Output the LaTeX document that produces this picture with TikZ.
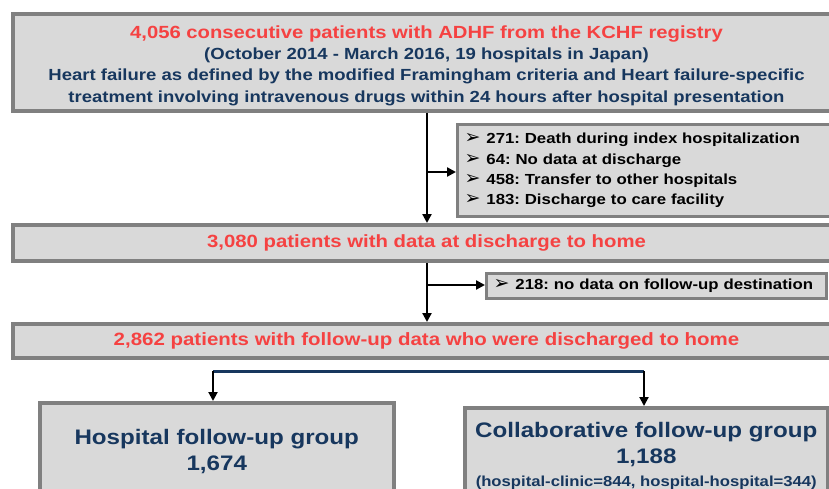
\documentclass[tikz,border=0pt]{standalone}
\usepackage{fontspec}
\setmainfont{Liberation Sans}[FakeStretch=1.15]
\newfontfamily\dingfont{DejaVu Sans}
\usetikzlibrary{arrows.meta}

\definecolor{kred}{RGB}{245,66,66}
\definecolor{knavy}{RGB}{23,55,94}
\definecolor{boxfill}{RGB}{217,217,217}
\definecolor{boxline}{RGB}{128,128,128}

\newcommand{\bularrow}{{\dingfont\fontsize{19}{16}\selectfont\symbol{"27A2}}\hspace{6pt}}

\begin{document}
\frenchspacing
\begin{tikzpicture}[x=1pt, y=-1pt, font=\bfseries]

\tikzstyle{stage}=[rectangle, draw=boxline, line width=4pt, fill=boxfill, inner sep=0pt, align=center]
\tikzstyle{note}=[rectangle, draw=boxline, line width=3pt, fill=boxfill, inner xsep=7pt, inner ysep=0pt, align=left, anchor=north west]
\tikzstyle{connect}=[-{Triangle[length=9pt, width=9pt]}, line width=2.5pt]

\useasboundingbox (0,0) rectangle (829,489);
\clip (0,0) rectangle (829,489);

% main flow
\node[stage, minimum width=827pt, minimum height=97pt] (registry) at (426.5,62.5) {};
\node[align=center, inner sep=0pt, text=knavy,
      font=\bfseries\fontsize{16.1}{21.3}\selectfont] (registrytext) at (426.5,65.5)
  {{\color{kred}\fontsize{17.6}{21.3}\selectfont 4,056 consecutive patients with ADHF from the KCHF registry}\\
   (October 2014 - March 2016, 19 hospitals in Japan)\\
   Heart failure as defined by the modified Framingham criteria and Heart failure-specific\\
   treatment involving intravenous drugs within 24 hours after hospital presentation};

\node[stage, minimum width=827pt, minimum height=36pt, text=kred,
      font=\bfseries\fontsize{17.7}{21}\selectfont] (home) at (426.5,243)
  {3,080 patients with data at discharge to home};

\node[stage, minimum width=827pt, minimum height=34pt, text=kred,
      font=\bfseries\fontsize{17.8}{21}\selectfont] (followup) at (426.5,341)
  {2,862 patients with follow-up data who were discharged to home};

% exclusions
\node[note, minimum width=395pt, minimum height=92pt, text width=381pt,
      font=\bfseries\fontsize{14.6}{20.3}\selectfont] (excl1) at (456,123)
  {\bularrow 271: Death during index hospitalization\\
   \bularrow 64: No data at discharge\\
   \bularrow 458: Transfer to other hospitals\\
   \bularrow 183: Discharge to care facility};

\node[note, minimum width=340pt, minimum height=25pt, text width=326pt, inner xsep=6pt,
      font=\bfseries\fontsize{14.6}{18}\selectfont] (excl2) at (485,272)
  {\bularrow 218: no data on follow-up destination};

% groups
\node[stage, line width=3.5pt, anchor=north west, minimum width=354pt, minimum height=98pt,
      text=knavy, font=\bfseries\fontsize{21}{26}\selectfont] (hosp) at (38,401)
  {Hospital follow-up group\\1,674};

\node[stage, line width=3.5pt, anchor=north west, minimum width=363pt, minimum height=96pt,
      text=knavy, font=\bfseries\fontsize{21}{26}\selectfont] (collab) at (463,406)
  {Collaborative follow-up group\\1,188\\[-3pt]
   {\fontsize{14.5}{18}\selectfont (hospital-clinic=844, hospital-hospital=344)}};

% connectors
\coordinate (split1) at (427,172);
\coordinate (split2) at (427,285);
\coordinate (lfork) at (213,371);
\coordinate (rfork) at (644,371);

\draw[connect] (registry.south -| split1) -- (home.north -| split1);
\draw[connect] (split1) -- (excl1.west |- split1);
\draw[connect] (home.south -| split2) -- (followup.north -| split2);
\draw[connect] (split2) -- (excl2.west |- split2);

\draw[knavy, line width=3pt] (lfork) -- (rfork);
\draw[connect, line width=2pt] (lfork) -- (hosp.north -| lfork);
\draw[connect, line width=2pt] (rfork) -- (collab.north -| rfork);

\end{tikzpicture}
\end{document}
